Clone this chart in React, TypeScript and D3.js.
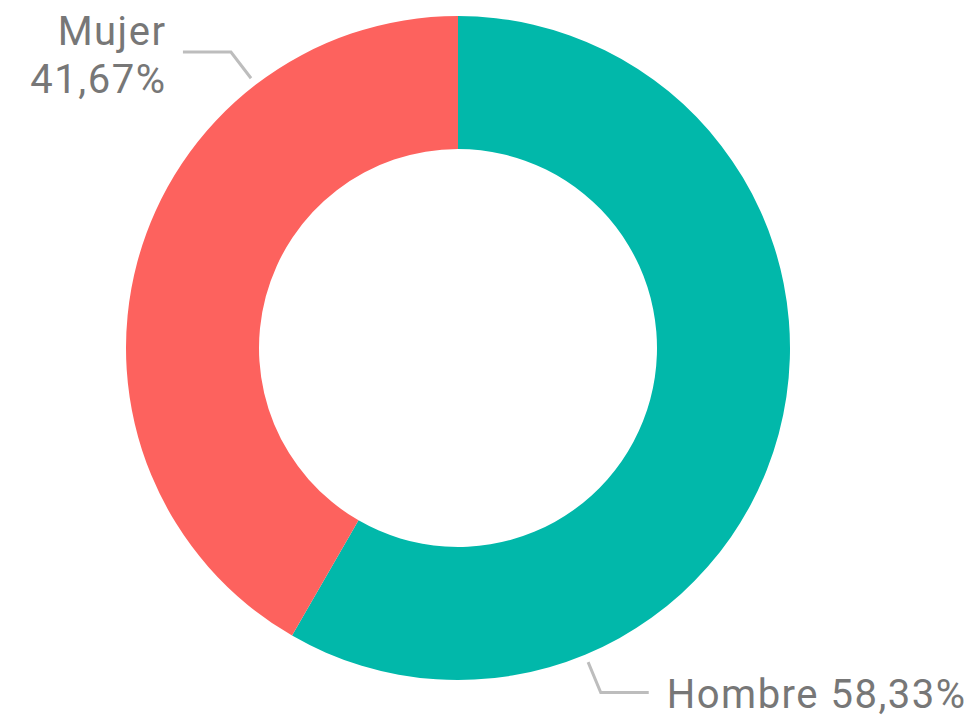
import React, {useRef, useEffect} from "react";
import * as d3 from "d3";

const categories = ["Hombre", "Mujer"];
const values = [58.33, 41.67];
const labels = ["58,33%", "41,67%"];
const colors = ["#01B8AA", "#FD625E"];
// angle (degrees from 12 o'clock) where the leader line leaves the ring
const labelAngles = [157.5, -37.5];

export default function App() {

	const ref = useRef<SVGSVGElement>(null);

	let layout = {"width": 975,
				  "height": 720,
				  "cx": 458,
				  "cy": 348,
				  "outer": 332,
				  "inner": 199};

	useEffect(() => {

		let svg = d3.select(ref.current)
					.attr("width", layout.width)
					.attr("height", layout.height);

		let pie = d3.pie<number>()
					.sort(null)
					.value(d => d);

		let arc = d3.arc<d3.PieArcDatum<number>>()
					.innerRadius(layout.inner)
					.outerRadius(layout.outer);

		let g = svg.select("#main")
				.attr("transform", `translate(${layout.cx}, ${layout.cy})`);

		g.selectAll(".slice")
			.data(pie(values))
			.join("path")
			.attr("class", "slice")
			.attr("d", arc)
			.attr("fill", (d, i) => colors[i]);

		let polar = (r: number, deg: number) => {
			let a = deg * Math.PI / 180;
			return [r * Math.sin(a), -r * Math.cos(a)];
		};

		let labelData = categories.map((c, i) => {
			let p0 = polar(layout.outer + 8, labelAngles[i]);
			let p1 = polar(layout.outer + 41, labelAngles[i]);
			let side = p1[0] >= 0 ? 1 : -1;
			let p2 = [p1[0] + side * 48, p1[1]];
			return {c, i, p0, p1, p2, side};
		});

		g.selectAll(".leader")
			.data(labelData)
			.join("polyline")
			.attr("class", "leader")
			.attr("points", d => [d.p0, d.p1, d.p2].map(p => p.join(",")).join(" "))
			.attr("fill", "none")
			.attr("stroke", "#BDBDBD")
			.attr("stroke-width", 3);

		let texts = g.selectAll(".label")
					.data(labelData)
					.join("text")
					.attr("class", "label")
					.attr("text-anchor", d => d.side > 0 ? "start" : "end")
					.attr("font-family", "Roboto, sans-serif")
					.attr("font-size", 40)
					.attr("letter-spacing", 1.5)
					.attr("fill", "#777777");

		texts.each(function(d) {
			let t = d3.select(this);
			let x = d.p2[0] + d.side * 18 + (d.side < 0 ? 1.5 : 0);
			t.selectAll("tspan").remove();
			if (d.side > 0) {
				t.append("tspan")
					.attr("x", x)
					.attr("y", d.p2[1] + 15)
					.text(`${d.c} ${labels[d.i]}`);
			} else {
				t.append("tspan")
					.attr("x", x)
					.attr("y", d.p2[1] - 7)
					.text(d.c);
				t.append("tspan")
					.attr("x", x)
					.attr("y", d.p2[1] + 41)
					.text(labels[d.i]);
			}
		});

	}, []);

	return (
		<svg ref={ref} style={{position: "absolute", left: 0, top: 0, background: "#fff"}}>
			<g id="main" />
		</svg>
	);

}
